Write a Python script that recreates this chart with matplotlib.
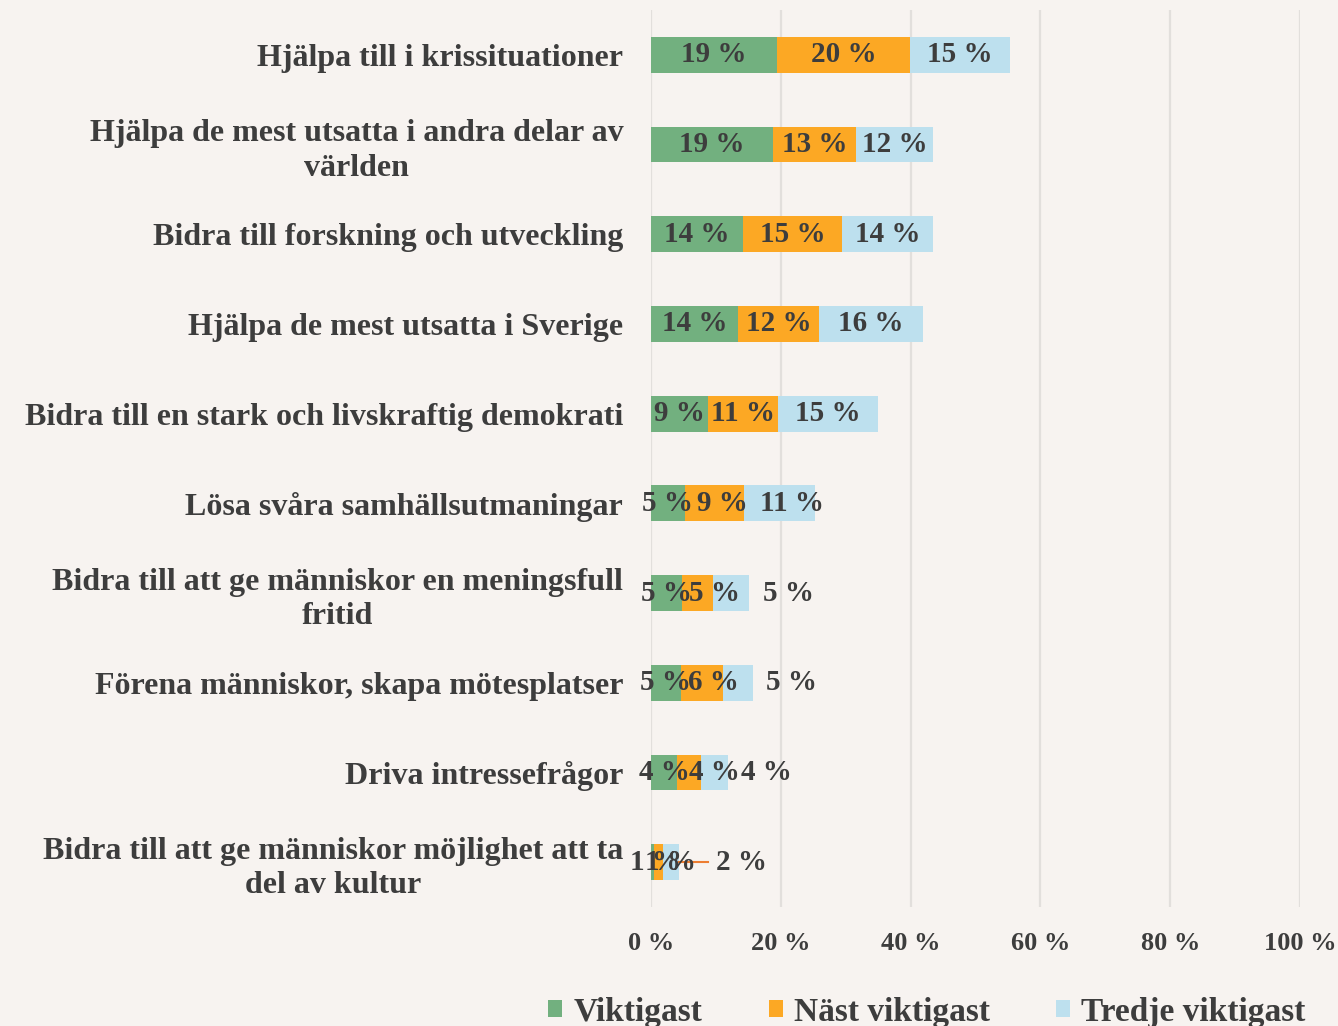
import numpy as np
import matplotlib.pyplot as plt

# kategorier (uppifrån och ned)
categories = [
    "Hjälpa till i krissituationer",
    "Hjälpa de mest utsatta i andra delar av\nvärlden",
    "Bidra till forskning och utveckling",
    "Hjälpa de mest utsatta i Sverige",
    "Bidra till en stark och livskraftig demokrati",
    "Lösa svåra samhällsutmaningar",
    "Bidra till att ge människor en meningsfull\nfritid",
    "Förena människor, skapa mötesplatser",
    "Driva intressefrågor",
    "Bidra till att ge människor möjlighet att ta\ndel av kultur",
]

# andelar i procent, avlästa från staplarna
viktigast = [19.4, 18.8, 14.2, 13.4, 8.8, 5.2, 4.8, 4.6, 4.0, 0.4]
nast_viktigast = [20.5, 12.8, 15.3, 12.5, 10.8, 9.1, 4.8, 6.5, 3.7, 1.5]
tredje_viktigast = [15.4, 11.9, 14.0, 16.0, 15.3, 10.9, 5.5, 4.6, 4.2, 2.4]

# etiketter som de står i diagrammet
lbl_viktigast = [19, 19, 14, 14, 9, 5, 5, 5, 4, 1]
lbl_nast = [20, 13, 15, 12, 11, 9, 5, 6, 4, 1]
lbl_tredje = [15, 12, 14, 16, 15, 11, 5, 5, 4, 2]

series_names = ["Viktigast", "Näst viktigast", "Tredje viktigast"]
colors = ["#72b07f", "#fca824", "#bde0ee"]

# förskjutning av etiketter (procentenheter) där Excel flyttat dem
shift_viktigast = [0, 0, 0, 0, 0, 0, 0, 0, 0, 0.5]
shift_nast = [0, 0, 0, 0, 0, 1.2, 2.6, 1.8, 3.9, 1.8]
shift_tredje = [0, 0, 0, 0, 0, 1.9, 8.8, 8.3, 8.0, 10.9]

bg = "#f7f3f0"
txt = "#3d3d3d"
font = "Liberation Serif"

fig = plt.figure(figsize=(13.38, 10.26), dpi=100, facecolor=bg)
ax = fig.add_axes([651 / 1338, 1 - 907 / 1026, 649 / 1338, 897 / 1026])
ax.set_facecolor(bg)

y = np.arange(len(categories))
left = np.zeros(len(categories))
data = [viktigast, nast_viktigast, tredje_viktigast]
labels = [lbl_viktigast, lbl_nast, lbl_tredje]
shifts = [shift_viktigast, shift_nast, shift_tredje]
bars = []
for vals, col, name, lbls, sh in zip(data, colors, series_names, labels, shifts):
    vals = np.array(vals)
    b = ax.barh(y, vals, left=left, height=0.4, color=col, label=name, zorder=3)
    bars.append(b)
    for i in range(len(vals)):
        ax.text(left[i] + vals[i] / 2 + sh[i], y[i], f"{lbls[i]} %",
                ha="center", va="center", fontsize=21, fontweight="bold",
                color=txt, family=font, zorder=5)
    left = left + vals

# hänvisningslinje för sista raden
last = len(categories) - 1
ax.plot([left[last], left[last] + 4.5], [y[last], y[last]],
        color="#ed7d31", lw=1.5, zorder=4)

ax.set_xlim(0, 100)
ax.set_ylim(len(categories) - 0.5, -0.5)
ax.set_xticks(np.arange(0, 101, 20))
ax.set_xticklabels([f"{v} %" for v in range(0, 101, 20)])
ax.set_yticks(y)
ax.set_yticklabels(categories, ha="right", multialignment="center")
ax.grid(axis="x", color="#e2dfdc", lw=1.6, zorder=0)
for s in ax.spines.values():
    s.set_visible(False)
ax.tick_params(axis="both", length=0, colors=txt)
ax.tick_params(axis="y", pad=20)
ax.tick_params(axis="x", pad=18)
for t in ax.get_yticklabels():
    t.set_fontsize(23)
    t.set_fontweight("bold")
    t.set_family(font)
    t.set_linespacing(1.25)
for t in ax.get_xticklabels():
    t.set_fontsize(19)
    t.set_fontweight("bold")
    t.set_family(font)

leg = fig.legend(handles=bars, loc="center", bbox_to_anchor=(927 / 1338, 1 - 1012 / 1026),
                 ncol=3, frameon=False, handlelength=0.42, handleheight=0.42,
                 handletextpad=0.33, columnspacing=2.0,
                 prop={"family": font, "size": 24, "weight": "bold"})
for t in leg.get_texts():
    t.set_color(txt)

fig.savefig("out.png", dpi=100, facecolor=bg)
